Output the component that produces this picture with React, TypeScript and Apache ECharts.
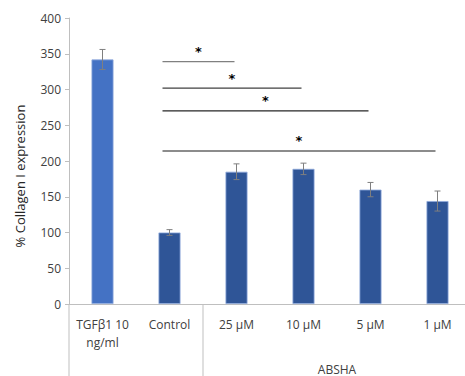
import React, { useEffect, useRef } from "react";
import * as echarts from "echarts";

const categories = ["TGFβ1 10\nng/ml", "Control", "25 µM", "10 µM", "5 µM", "1 µM"];
const values = [342, 100, 185, 189, 160, 144];
const errors = [14, 4, 11, 8, 10, 14];
const barColors = ["#4472C4", "#2F5597", "#2F5597", "#2F5597", "#2F5597", "#2F5597"];
const yTicks = { min: 0, max: 400, interval: 50 };
const groupLabel = "ABSHA";
const groupStart = 2; // first category index in the ABSHA group
// significance brackets: from Control (index 1) to target index, at value level
const sigTo = [2, 3, 4, 5];
const sigLevel = [339, 302, 270, 214];
const sigColors = ["#808080", "#404040", "#262626", "#8c8c8c"];
const sigWidths = [1.2, 1.2, 1.2, 1.8];

const FONT = "'Open Sans', 'Noto Sans', sans-serif";

export default function App() {
  const ref = useRef<HTMLDivElement>(null);
  useEffect(() => {
    if (!ref.current) return;
    const chart = echarts.init(ref.current, undefined, { renderer: "svg" });
    const option: any = {
      animation: false,
      backgroundColor: "#ffffff",
      grid: { left: 69, top: 18, width: 402, height: 286, outerBoundsMode: "none", containLabel: false },
      xAxis: {
        type: "category",
        data: categories,
        axisLine: { lineStyle: { color: "#BFBFBF", width: 1 } },
        axisTick: { show: false },
        axisLabel: {
          color: "#404040",
          fontFamily: FONT,
          fontSize: 12,
          lineHeight: 18,
          margin: 11,
          interval: 0,
        },
      },
      yAxis: {
        type: "value",
        min: yTicks.min,
        max: yTicks.max,
        interval: yTicks.interval,
        axisLine: { show: true, lineStyle: { color: "#BFBFBF", width: 1 } },
        axisTick: { show: true, length: 4, lineStyle: { color: "#BFBFBF" } },
        splitLine: { show: false },
        axisLabel: { color: "#404040", fontFamily: FONT, fontSize: 12, margin: 8 },
      },
      graphic: [
        {
          type: "text",
          x: 20,
          y: 176,
          rotation: Math.PI / 2,
          style: {
            text: "% Collagen I expression",
            fill: "#262626",
            font: "13px 'Open Sans', 'Noto Sans', sans-serif",
            align: "center",
            verticalAlign: "middle",
          },
        },
      ],
      series: [
        {
          type: "bar",
          barWidth: 22,
          data: values.map((v, i) => ({
            value: v,
            itemStyle: { color: barColors[i], borderColor: "#8FAADC", borderWidth: 0.8 },
          })),
          z: 2,
        },
        {
          type: "custom",
          z: 3,
          data: values.map((v, i) => [i, v - errors[i], v + errors[i]]),
          renderItem: (params: any, api: any) => {
            const lo = api.coord([api.value(0), api.value(1)]);
            const hi = api.coord([api.value(0), api.value(2)]);
            const x = lo[0];
            const hw = 3;
            const st = { stroke: "#7F7F7F", lineWidth: 1 };
            return {
              type: "group",
              children: [
                { type: "line", shape: { x1: x, y1: lo[1], x2: x, y2: hi[1] }, style: st },
                { type: "line", shape: { x1: x - hw, y1: lo[1], x2: x + hw, y2: lo[1] }, style: st },
                { type: "line", shape: { x1: x - hw, y1: hi[1], x2: x + hw, y2: hi[1] }, style: st },
              ],
            };
          },
        },
        {
          type: "custom",
          z: 3,
          data: sigTo.map((t, i) => [1, t, sigLevel[i], i]),
          renderItem: (params: any, api: any) => {
            const from = api.value(0);
            const to = api.value(1);
            const lvl = api.value(2);
            const k = api.value(3);
            const p1 = api.coord([from, lvl]);
            const p2 = api.coord([to, lvl]);
            const x1 = p1[0] - 7;
            const x2 = p2[0] - 2;
            return {
              type: "group",
              children: [
                {
                  type: "line",
                  shape: { x1, y1: p1[1], x2, y2: p1[1] },
                  style: { stroke: sigColors[k], lineWidth: sigWidths[k] },
                },
                {
                  type: "text",
                  x: (x1 + x2) / 2,
                  y: p1[1] - 10,
                  style: {
                    text: "*",
                    fill: "#000000",
                    font: "bold 13px 'DejaVu Sans', sans-serif",
                    align: "center",
                    verticalAlign: "middle",
                  },
                },
              ],
            };
          },
        },
        {
          type: "custom",
          z: 3,
          clip: false,
          data: [[0, groupStart, categories.length]],
          renderItem: (params: any, api: any) => {
            const base = api.coord([0, 0]);
            const band = api.size([1, 0])[0];
            const axisY = base[1];
            const left = base[0] - band / 2;
            const sepX = left + groupStart * band;
            const right = left + categories.length * band;
            const bottom = 376;
            const st = { stroke: "#BFBFBF", lineWidth: 1 };
            return {
              type: "group",
              children: [
                { type: "line", shape: { x1: left, y1: axisY, x2: left, y2: bottom }, style: st },
                { type: "line", shape: { x1: sepX, y1: axisY, x2: sepX, y2: bottom }, style: st },
                { type: "line", shape: { x1: right, y1: axisY, x2: right, y2: bottom }, style: st },
                {
                  type: "text",
                  x: (sepX + right) / 2,
                  y: 369,
                  style: {
                    text: groupLabel,
                    fill: "#404040",
                    font: "12px 'Open Sans', 'Noto Sans', sans-serif",
                    align: "center",
                    verticalAlign: "middle",
                  },
                },
              ],
            };
          },
        },
      ],
    };
    chart.setOption(option);
    return () => chart.dispose();
  }, []);
  return <div ref={ref} style={{ width: 465, height: 376, position: "absolute", left: 0, top: 0 }} />;
}
